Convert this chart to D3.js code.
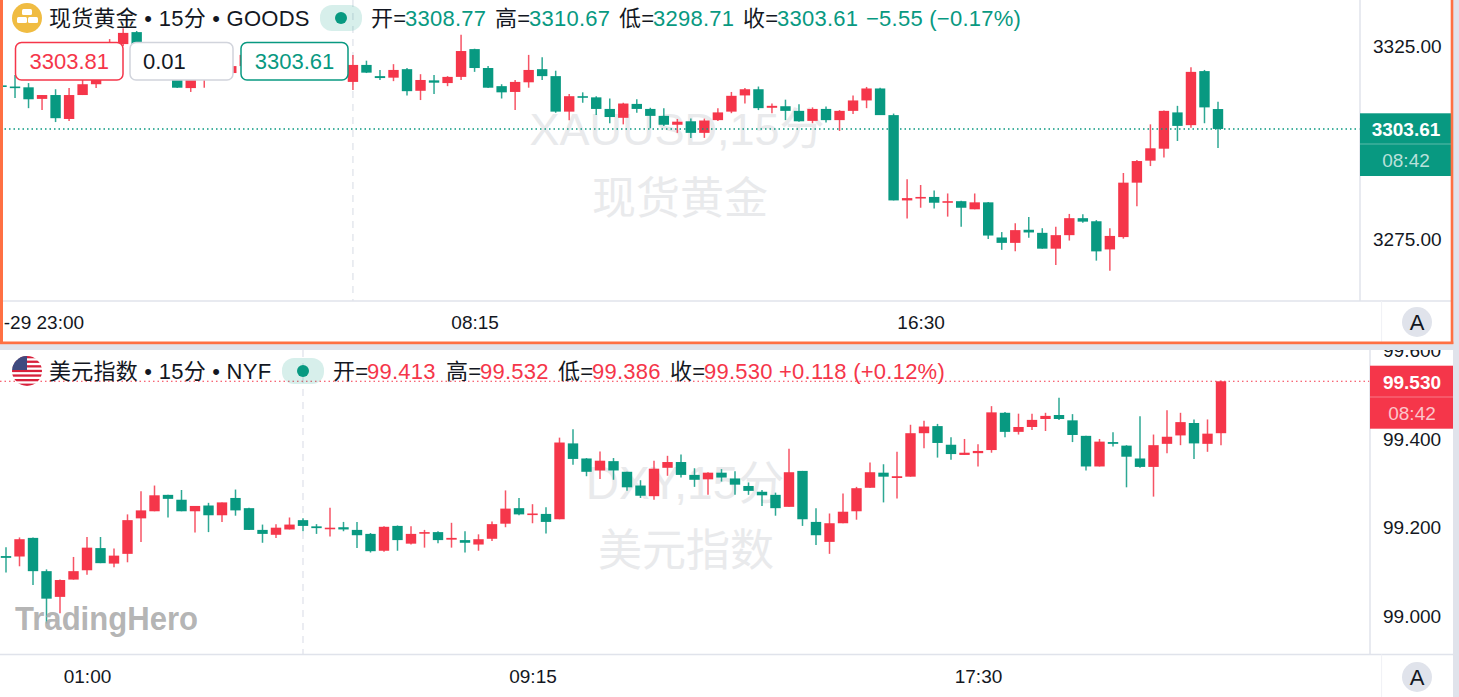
<!DOCTYPE html>
<html><head><meta charset="utf-8">
<script src="https://cdn.jsdelivr.net/npm/d3@7"></script>
<style>
html,body{margin:0;padding:0;background:#fff;overflow:hidden}
svg{display:block}
text{font-family:"Liberation Sans","Noto Sans CJK SC",sans-serif}
</style></head><body><div id="chart"></div>
<script>
const goldOpen=[3314.9,3314.6,3314.4,3311.4,3312.4,3306.2,3312.4,3315.2,3317.8,3325.6,3328.7,3325.6,3322.0,3318.9,3314.2,3317.8,3318.9,3318.1,3319.9,3322.8,3320.9,3322.0,3319.4,3321.5,3320.4,3322.0,3315.8,3320.2,3317.3,3316.9,3319.1,3313.5,3316.2,3315.5,3317.1,3324.3,3319.4,3314.7,3313.2,3315.7,3319.1,3317.3,3308.1,3312.1,3311.8,3308.8,3306.5,3310.1,3308.8,3307.0,3304.7,3305.6,3302.6,3305.9,3308.1,3312.3,3313.9,3309.1,3309.5,3308.3,3305.7,3308.8,3305.9,3308.3,3311.0,3314.1,3307.2,3285.1,3285.6,3286.0,3284.5,3284.9,3282.8,3284.6,3275.5,3274.1,3277.5,3276.7,3272.6,3276.1,3280.5,3279.7,3272.4,3275.6,3289.7,3295.4,3298.5,3307.9,3304.6,3318.6,3308.77];
const goldHigh=[3315.8,3317.6,3315.5,3312.4,3313.9,3314.2,3316.3,3318.9,3326.9,3329.7,3329.0,3325.9,3322.8,3319.9,3318.9,3320.9,3320.4,3320.9,3324.0,3324.0,3323.0,3322.8,3322.5,3323.5,3324.6,3322.8,3322.8,3321.3,3318.9,3320.4,3319.4,3317.8,3317.6,3317.3,3328.0,3324.4,3319.9,3315.2,3316.3,3322.8,3322.2,3318.7,3312.7,3313.1,3312.1,3311.5,3310.4,3311.3,3309.1,3309.0,3306.2,3306.3,3306.3,3309.0,3313.2,3314.2,3314.6,3310.2,3311.2,3310.0,3309.2,3309.4,3308.5,3312.3,3314.5,3314.3,3307.6,3290.6,3289.1,3287.7,3286.9,3285.0,3286.9,3284.7,3276.9,3279.2,3280.8,3277.9,3278.3,3281.6,3281.5,3280.0,3277.9,3292.2,3295.6,3304.8,3308.4,3309.6,3319.6,3318.9,3310.67];
const goldLow=[3313.7,3311.6,3309.0,3308.5,3305.4,3305.7,3312.4,3314.2,3317.3,3325.1,3325.1,3320.9,3318.1,3314.2,3313.2,3314.3,3316.8,3317.8,3319.6,3319.9,3319.9,3318.4,3318.9,3318.9,3319.4,3316.3,3313.7,3318.1,3316.3,3316.0,3312.3,3311.1,3312.7,3314.7,3316.3,3318.4,3314.2,3311.5,3308.5,3314.3,3316.3,3307.8,3305.9,3310.4,3307.2,3305.1,3304.8,3307.8,3303.8,3304.4,3302.6,3301.3,3301.3,3305.7,3307.7,3310.2,3308.5,3307.7,3305.9,3305.5,3305.1,3305.3,3303.1,3307.5,3309.0,3307.2,3285.1,3280.4,3283.2,3283.0,3280.9,3278.3,3282.8,3275.1,3272.3,3271.9,3275.4,3272.6,3268.4,3274.7,3279.3,3269.5,3266.9,3275.2,3283.6,3294.0,3296.2,3300.5,3303.9,3305.1,3298.71];
const goldClose=[3314.6,3314.3,3311.3,3312.4,3306.4,3312.4,3315.2,3317.8,3325.6,3328.5,3325.6,3322.0,3318.9,3314.3,3317.8,3318.9,3318.1,3319.9,3322.8,3320.9,3322.0,3319.4,3321.5,3320.4,3322.0,3316.8,3320.2,3318.2,3316.8,3318.9,3313.4,3316.3,3315.6,3317.1,3323.8,3319.4,3314.3,3313.1,3315.8,3318.9,3317.3,3308.1,3312.1,3311.7,3308.8,3306.7,3310.2,3308.8,3307.0,3304.7,3305.5,3302.6,3305.8,3307.9,3312.2,3313.9,3309.0,3309.6,3308.3,3305.6,3308.8,3305.9,3308.3,3311.0,3314.1,3307.2,3285.1,3285.7,3286.0,3284.5,3284.9,3283.2,3284.6,3276.0,3274.1,3277.4,3276.8,3272.6,3276.1,3280.5,3279.6,3271.9,3275.9,3289.7,3295.3,3298.6,3308.3,3304.4,3318.4,3309.2,3303.61];
const dxyOpen=[99.136,99.135,99.177,99.102,99.044,99.083,99.104,99.154,99.119,99.141,99.221,99.237,99.274,99.263,99.237,99.250,99.228,99.267,99.244,99.195,99.184,99.196,99.217,99.203,99.197,99.201,99.195,99.186,99.148,99.204,99.164,99.187,99.190,99.173,99.172,99.162,99.175,99.209,99.244,99.229,99.231,99.219,99.390,99.356,99.329,99.350,99.326,99.295,99.271,99.335,99.348,99.319,99.309,99.324,99.311,99.294,99.281,99.274,99.247,99.328,99.213,99.168,99.210,99.237,99.290,99.324,99.312,99.315,99.413,99.429,99.387,99.364,99.368,99.375,99.459,99.416,99.427,99.445,99.454,99.442,99.407,99.338,99.393,99.385,99.356,99.337,99.389,99.408,99.436,99.389,99.413];
const dxyHigh=[99.156,99.178,99.178,99.106,99.083,99.134,99.179,99.179,99.153,99.230,99.282,99.295,99.274,99.285,99.249,99.256,99.257,99.286,99.245,99.207,99.208,99.223,99.221,99.208,99.245,99.213,99.213,99.188,99.203,99.205,99.203,99.195,99.192,99.211,99.192,99.185,99.214,99.284,99.267,99.253,99.246,99.403,99.422,99.357,99.372,99.357,99.326,99.307,99.351,99.362,99.365,99.334,99.325,99.332,99.327,99.302,99.285,99.279,99.378,99.328,99.244,99.232,99.277,99.292,99.347,99.343,99.371,99.432,99.441,99.434,99.404,99.400,99.388,99.474,99.461,99.457,99.457,99.459,99.493,99.456,99.407,99.400,99.415,99.386,99.451,99.410,99.465,99.459,99.444,99.444,99.532];
const dxyLow=[99.099,99.113,99.071,98.984,99.007,99.083,99.094,99.120,99.111,99.122,99.168,99.237,99.223,99.237,99.189,99.190,99.213,99.227,99.195,99.166,99.177,99.196,99.192,99.186,99.180,99.192,99.154,99.144,99.146,99.148,99.162,99.155,99.165,99.155,99.144,99.148,99.170,99.201,99.228,99.210,99.187,99.219,99.342,99.316,99.310,99.308,99.283,99.267,99.263,99.317,99.313,99.292,99.274,99.304,99.274,99.274,99.249,99.227,99.247,99.204,99.161,99.141,99.210,99.218,99.290,99.257,99.266,99.315,99.379,99.358,99.353,99.364,99.338,99.369,99.404,99.410,99.420,99.418,99.443,99.393,99.329,99.338,99.383,99.291,99.335,99.270,99.368,99.386,99.355,99.371,99.386];
const dxyClose=[99.132,99.174,99.102,99.040,99.082,99.102,99.155,99.120,99.137,99.217,99.239,99.273,99.265,99.237,99.249,99.228,99.257,99.239,99.195,99.186,99.200,99.207,99.204,99.199,99.200,99.196,99.183,99.147,99.202,99.172,99.186,99.190,99.172,99.177,99.166,99.174,99.208,99.243,99.230,99.232,99.213,99.392,99.355,99.326,99.351,99.329,99.291,99.272,99.333,99.348,99.319,99.308,99.324,99.313,99.297,99.283,99.273,99.244,99.325,99.219,99.183,99.210,99.236,99.289,99.325,99.315,99.316,99.413,99.428,99.391,99.366,99.369,99.373,99.460,99.416,99.427,99.443,99.452,99.445,99.409,99.338,99.394,99.389,99.360,99.337,99.386,99.405,99.438,99.390,99.412,99.530];
const goldPriceTicks=[3325,3275];
const dxyPriceTicks=[99.6,99.4,99.2,99.0];
const goldTimeTicks=[3.1,35,68];
const goldTimeLabels=["-29 23:00","08:15","16:30"];
const dxyTimeTicks=[6,39,72];
const dxyTimeLabels=["01:00","09:15","17:30"];

const GREEN="#089981",RED="#F5364A",INK="#131722",LINE="#E0E3EB",WM="#E9EAEC";
const svg=d3.select("#chart").append("svg").attr("width",1459).attr("height",697);
const defs=svg.append("defs");
svg.append("rect").attr("width",1459).attr("height",697).attr("fill","#E0E3EB");

function pane(o){
  const id=o.id;
  defs.append("clipPath").attr("id","clip"+id).append("rect")
    .attr("x",o.left).attr("y",o.top).attr("width",o.right-o.left).attr("height",o.bottom-o.top);
  const g=svg.append("g").attr("clip-path",`url(#clip${id})`);
  g.append("rect").attr("x",o.left).attr("y",o.top).attr("width",o.right-o.left).attr("height",o.bottom-o.top).attr("fill","#fff");

  const x=d3.scaleLinear().domain([0,90]).range([o.x0,o.x1]);
  const y=d3.scaleLinear().domain(o.domain).range(o.range);

  o.watermark.forEach(w=>g.append("text").attr("x",w[1]).attr("y",w[2]).attr("text-anchor","middle")
    .attr("font-size",w[3]).attr("fill",WM).text(w[0]));

  g.append("line").attr("x1",x(o.session)).attr("x2",x(o.session)).attr("y1",o.top).attr("y2",o.timeY)
    .attr("stroke",LINE).attr("stroke-width",1.3).attr("stroke-dasharray","7 6");

  const idx=d3.range(o.open.length);
  const up=i=>o.close[i]>=o.open[i];
  g.append("g").selectAll("line").data(idx).join("line")
    .attr("x1",x).attr("x2",x)
    .attr("y1",i=>y(o.high[i])).attr("y2",i=>y(o.low[i]))
    .attr("stroke",i=>up(i)?RED:GREEN).attr("stroke-width",1.5).attr("stroke-opacity",.85);
  g.append("g").selectAll("rect").data(idx).join("rect")
    .attr("x",i=>x(i)-5.2).attr("width",10.4)
    .attr("y",i=>y(Math.max(o.open[i],o.close[i])))
    .attr("height",i=>Math.max(1.6,Math.abs(y(o.open[i])-y(o.close[i]))))
    .attr("fill",i=>up(i)?RED:GREEN);

  const lastUp=up(idx.length-1), col=lastUp?RED:GREEN, last=o.close[idx.length-1];
  g.append("line").attr("x1",o.left).attr("x2",o.axisX).attr("y1",y(last)).attr("y2",y(last))
    .attr("stroke",col).attr("stroke-width",o.dotW).attr("stroke-dasharray","1.5 3");

  g.append("line").attr("x1",o.left).attr("x2",o.right).attr("y1",o.timeY).attr("y2",o.timeY).attr("stroke",LINE).attr("stroke-width",1.5);
  g.append("line").attr("x1",o.axisX).attr("x2",o.axisX).attr("y1",o.top).attr("y2",o.timeY).attr("stroke",LINE).attr("stroke-width",1.5);
  g.append("line").attr("x1",1381.6).attr("x2",1381.6).attr("y1",o.timeY).attr("y2",o.bottom).attr("stroke","#F0F1F5").attr("stroke-width",1);

  const py=d3.axisRight(y).tickValues(o.priceTicks).tickFormat(d3.format(o.priceFmt)).tickSize(0).tickPadding(o.pad);
  const pa=g.append("g").attr("transform",`translate(${o.axisX},0)`).call(py);
  pa.select(".domain").remove();
  pa.selectAll("text").attr("font-size",19).attr("font-family",'"Liberation Sans",sans-serif').attr("fill",INK);

  const tx=d3.axisBottom(x).tickValues(o.timeTicks).tickFormat((d,i)=>o.timeLabels[i]).tickSize(0).tickPadding(o.timePad);
  const ta=g.append("g").attr("transform",`translate(0,${o.timeY})`).call(tx);
  ta.select(".domain").remove();
  ta.selectAll("text").attr("font-size",19).attr("font-family",'"Liberation Sans",sans-serif').attr("fill",INK);

  g.append("rect").attr("x",o.axisX).attr("y",o.tag[0]).attr("width",o.right-o.axisX).attr("height",o.tag[2]-o.tag[0]).attr("fill",col);
  g.append("line").attr("x1",o.axisX).attr("x2",o.right).attr("y1",o.tag[1]).attr("y2",o.tag[1]).attr("stroke","#fff").attr("stroke-opacity",.35);
  g.append("text").attr("x",o.tagX).attr("y",(o.tag[0]+o.tag[1])/2+7.5).attr("text-anchor","middle").attr("font-size",19).attr("font-weight",700).attr("fill","#fff").text(d3.format(o.priceFmt)(last));
  g.append("text").attr("x",o.tagX).attr("y",(o.tag[1]+o.tag[2])/2+7).attr("text-anchor","middle").attr("font-size",19).attr("fill","#fff").attr("fill-opacity",.72).text("08:42");

  g.append("circle").attr("cx",1417).attr("cy",o.autoY).attr("r",15).attr("fill",LINE);
  g.append("text").attr("x",1417).attr("y",o.autoY+8).attr("text-anchor","middle").attr("font-size",22).attr("fill",INK).text("A");

  const base=o.legendY;
  const leg=(t,lx,c)=>g.append("text").attr("x",lx).attr("y",base).attr("font-size",22).attr("letter-spacing",.25).attr("fill",c||INK).text(t);
  leg(o.title,49);
  g.append("rect").attr("x",o.pill).attr("y",base-21).attr("width",42).attr("height",26).attr("rx",12).attr("fill",GREEN).attr("fill-opacity",.16);
  g.append("circle").attr("cx",o.pill+21).attr("cy",base-8).attr("r",6).attr("fill",GREEN);
  o.legend.forEach(l=>leg(l[0],l[1],l[2]?col:INK));
  return g;
}

const g1=pane({id:1,left:0,right:1453,top:0,bottom:344,x0:1.5,x1:1218,
  domain:[3325,3275],range:[46.4,239.4],axisX:1360,timeY:301,pad:13,timePad:15,dotW:1.6,
  open:goldOpen,high:goldHigh,low:goldLow,close:goldClose,
  session:26,priceTicks:goldPriceTicks,priceFmt:".2f",timeTicks:goldTimeTicks,timeLabels:goldTimeLabels,
  tag:[113.3,144,176],tagX:1406,autoY:322,legendY:26,pill:320,
  title:"现货黄金 • 15分 • GOODS",
  legend:[["开=",371],["3308.77",405,1],["高=",495],["3310.67",529,1],["低=",619],["3298.71",653,1],["收=",743],["3303.61",777,1],["−5.55 (−0.17%)",866,1]],
  watermark:[["XAUUSD,15分",677,145,45],["现货黄金",680,214,44]]});

const g2=pane({id:2,left:0,right:1453,top:350,bottom:697,x0:6,x1:1221,
  domain:[99.53,99.0],range:[381.3,616.4],axisX:1370,timeY:654.5,pad:13,timePad:15,dotW:1.1,
  open:dxyOpen,high:dxyHigh,low:dxyLow,close:dxyClose,
  session:22,priceTicks:dxyPriceTicks,priceFmt:".3f",timeTicks:dxyTimeTicks,timeLabels:dxyTimeLabels,
  tag:[365.7,397,428.7],tagX:1412,autoY:677,legendY:379,pill:282,
  title:"美元指数 • 15分 • NYF",
  legend:[["开=",333],["99.413",367,1],["高=",446],["99.532",480,1],["低=",558],["99.386",592,1],["收=",670],["99.530",704,1],["+0.118 (+0.12%)",779,1]],
  watermark:[["DXY,15分",685,499,46],["美元指数",686,566,44]]});

g1.append("circle").attr("cx",27).attr("cy",18).attr("r",15).attr("fill","#F0BC42");
[[22,9,10,6],[17,17,10,6],[28,17,10,6]].forEach(b=>g1.append("rect").attr("x",b[0]).attr("y",b[1]).attr("width",b[2]).attr("height",b[3]).attr("rx",1.5).attr("fill","#fff"));

[[15.5,107.5,"3303.81",RED,RED,"middle"],[130,103,"0.01","#D1D4DC",INK,"start"],[241,107,"3303.61",GREEN,GREEN,"middle"]].forEach(b=>{
  g1.append("rect").attr("x",b[0]).attr("y",42.5).attr("width",b[1]).attr("height",37.5).attr("rx",6).attr("fill","#fff").attr("stroke",b[3]).attr("stroke-width",1.5);
  g1.append("text").attr("x",b[5]=="middle"?b[0]+b[1]/2:b[0]+13).attr("y",69).attr("text-anchor",b[5]).attr("font-size",22).attr("fill",b[4]).text(b[2]);
});

[[0,0,3,344],[1450.7,0,2.6,344],[0,341.5,1453.3,2.7]].forEach(r=>svg.append("rect").attr("x",r[0]).attr("y",r[1]).attr("width",r[2]).attr("height",r[3]).attr("fill","#FF7043"));

defs.append("clipPath").attr("id","flag").append("circle").attr("cx",27).attr("cy",371).attr("r",15);
const fl=g2.append("g").attr("clip-path","url(#flag)");
fl.append("rect").attr("x",12).attr("y",356).attr("width",30).attr("height",30).attr("fill","#fff");
d3.range(7).forEach(i=>fl.append("rect").attr("x",12).attr("y",356+i*4.6).attr("width",30).attr("height",2.3).attr("fill","#D8203B"));
fl.append("rect").attr("x",12).attr("y",356).attr("width",15).attr("height",14).attr("fill","#3F4A7F");

svg.append("text").attr("x",15).attr("y",630).attr("font-size",33).attr("font-weight",800).attr("font-family","Lato,Inter,sans-serif").attr("fill","#ABABAB").attr("fill-opacity",.9).attr("textLength",183).attr("lengthAdjust","spacingAndGlyphs").text("TradingHero");
</script></body></html>
